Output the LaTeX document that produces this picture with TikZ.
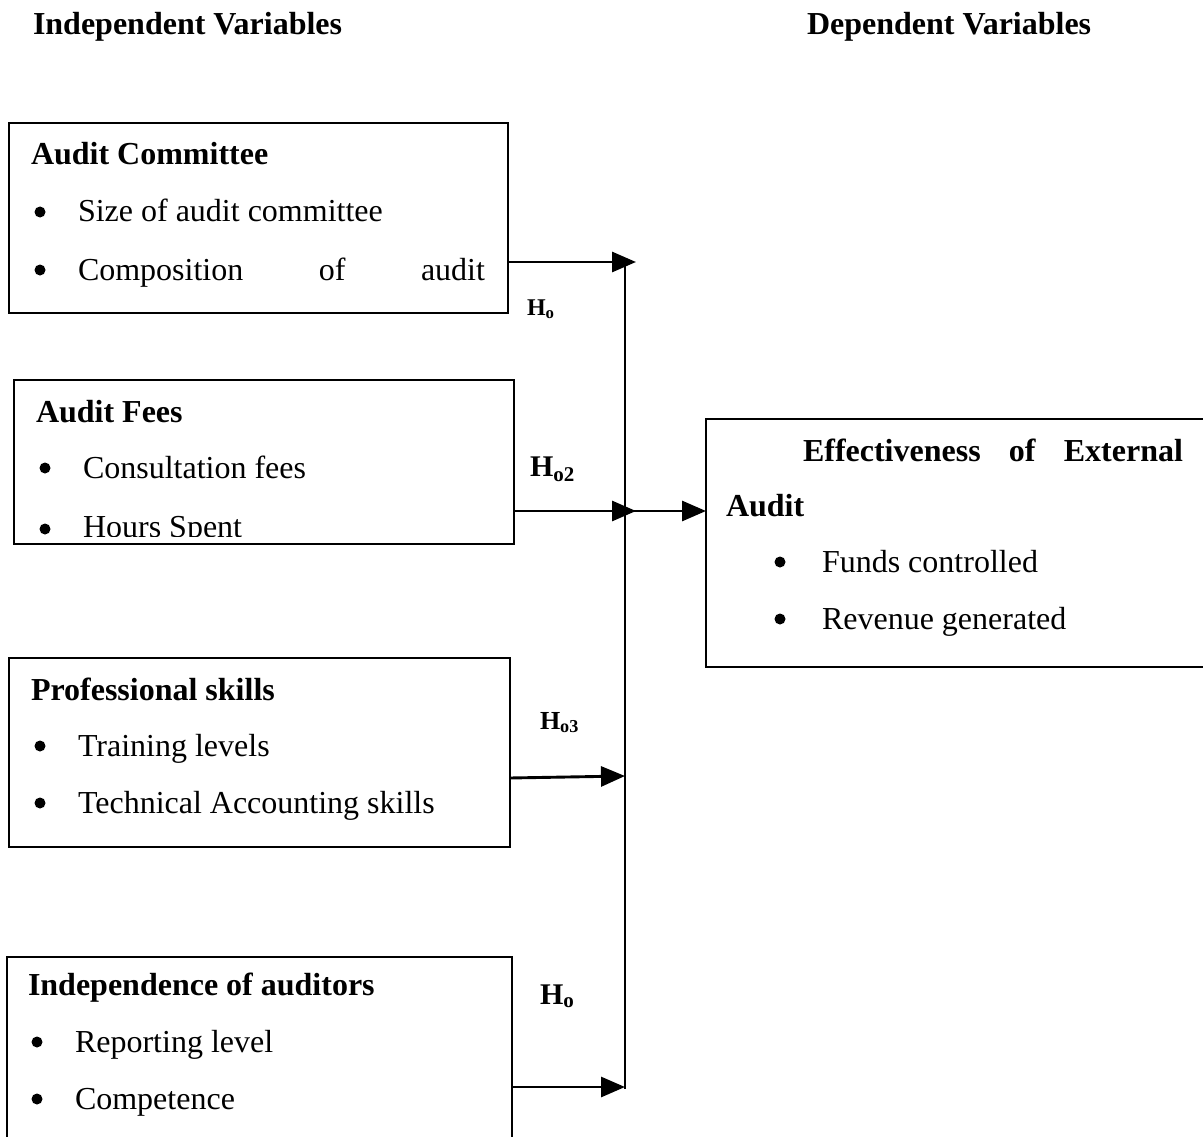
\documentclass[tikz,border=0pt]{standalone}
\usepackage{fontspec}
\setmainfont{Liberation Serif}
\usetikzlibrary{arrows.meta}
\begin{document}
\begin{tikzpicture}[x=1pt,y=-1pt,
  box/.style={draw,line width=2.6pt,anchor=north west,inner sep=0pt,outer sep=0pt},
  txt/.style={anchor=base west,inner sep=0pt,outer sep=0pt,font=\fontsize{32}{38}\selectfont},
  hd/.style={anchor=base west,inner sep=0pt,outer sep=0pt,font=\fontsize{32}{38}\selectfont\bfseries},
  hlab/.style={anchor=base west,inner sep=0pt,outer sep=0pt,font=\bfseries},
  dot/.style={circle,fill=black,draw=none,inner sep=0pt,minimum size=11pt},
  arr/.style={line width=2.9pt,-{Triangle[length=24pt,width=20pt]}},
  vline/.style={line width=1.5pt}
]
\useasboundingbox (0,0) rectangle (1203,1137);

% headers
\node[hd] (ind) at (33,35) {Independent Variables};
\node[hd] (dep) at (807,35) {Dependent Variables};

% boxes
\node[box,minimum width=499pt,minimum height=190pt] (b1) at (9,123) {};
\node[box,minimum width=500pt,minimum height=164pt] (b2) at (14,380) {};
\node[box,minimum width=501pt,minimum height=189pt] (b3) at (9,658) {};
\node[box,minimum width=505pt,minimum height=200pt] (b4) at (7,957) {};
\node[box,minimum width=510pt,minimum height=248pt] (eff) at (706,419) {};

% box 1
\node[hd] (t1) at (31,165) {Audit Committee};
\node[dot] (d11) at (40,212) {};
\node[txt] (l11) at (78,222) {Size of audit committee};
\node[dot] (d12) at (40,270) {};
\node[txt] (l12) at (78,280) {\hbox to 407pt{Composition\hfill of\hfill audit}};

% box 2
\node[hd] (t2) at (36,422) {Audit Fees};
\node[dot] (d21) at (45,468) {};
\node[txt] (l21) at (83,478) {Consultation fees};
\begin{scope}
\clip (14,380) rectangle (514,536);
\node[dot] (d22) at (45,529) {};
\node[txt] (l22) at (83,537) {Hours Spent};
\end{scope}

% box 3
\node[hd] (t3) at (31,700) {Professional skills};
\node[dot] (d31) at (40,746) {};
\node[txt] (l31) at (78,756) {Training levels};
\node[dot] (d32) at (40,803) {};
\node[txt] (l32) at (78,813) {Technical Accounting skills};

% box 4
\node[hd] (t4) at (28,995) {Independence of auditors};
\node[dot] (d41) at (37,1042) {};
\node[txt] (l41) at (75,1052) {Reporting level};
\node[dot] (d42) at (37,1099) {};
\node[txt] (l42) at (75,1109) {Competence};

% effectiveness box
\node[hd] (te) at (803,461) {\hbox to 380pt{Effectiveness\hfill of\hfill External}};
\node[hd] (te2) at (726,516) {Audit};
\node[dot] (de1) at (780,562) {};
\node[txt] (le1) at (822,572) {Funds controlled};
\node[dot] (de2) at (780,619) {};
\node[txt] (le2) at (822,629) {Revenue generated};

% hypothesis labels
\node[hlab,font=\fontsize{24}{28}\selectfont\bfseries] (h1) at (527,315) {H\textsubscript{o}};
\node[hlab,font=\fontsize{30}{34}\selectfont\bfseries] (h2) at (530,476) {H\textsubscript{o2}};
\node[hlab,font=\fontsize{26}{30}\selectfont\bfseries] (h3) at (540,729) {H\textsubscript{o3}};
\node[hlab,font=\fontsize{30}{34}\selectfont\bfseries] (h4) at (540,1004) {H\textsubscript{o}};

% connectors
\coordinate (j1) at (636,262);
\coordinate (j2) at (636,511);
\coordinate (jm) at (625,511);
\coordinate (j3) at (625,776);
\coordinate (j4) at (625,1087);
\coordinate (vtop) at (625,266);
\coordinate (vbot) at (625,1089);

\draw[vline] (vtop) -- (vbot);
\draw[arr] (b1.east |- j1) -- (j1);
\draw[arr] (b2.east |- j2) -- (j2);
\draw[arr] (jm) -- (eff.west |- jm);
\draw[arr] ([yshift=-2pt]b3.east |- j3) -- (j3);
\draw[arr] (b4.east |- j4) -- (j4);
\end{tikzpicture}
\end{document}
